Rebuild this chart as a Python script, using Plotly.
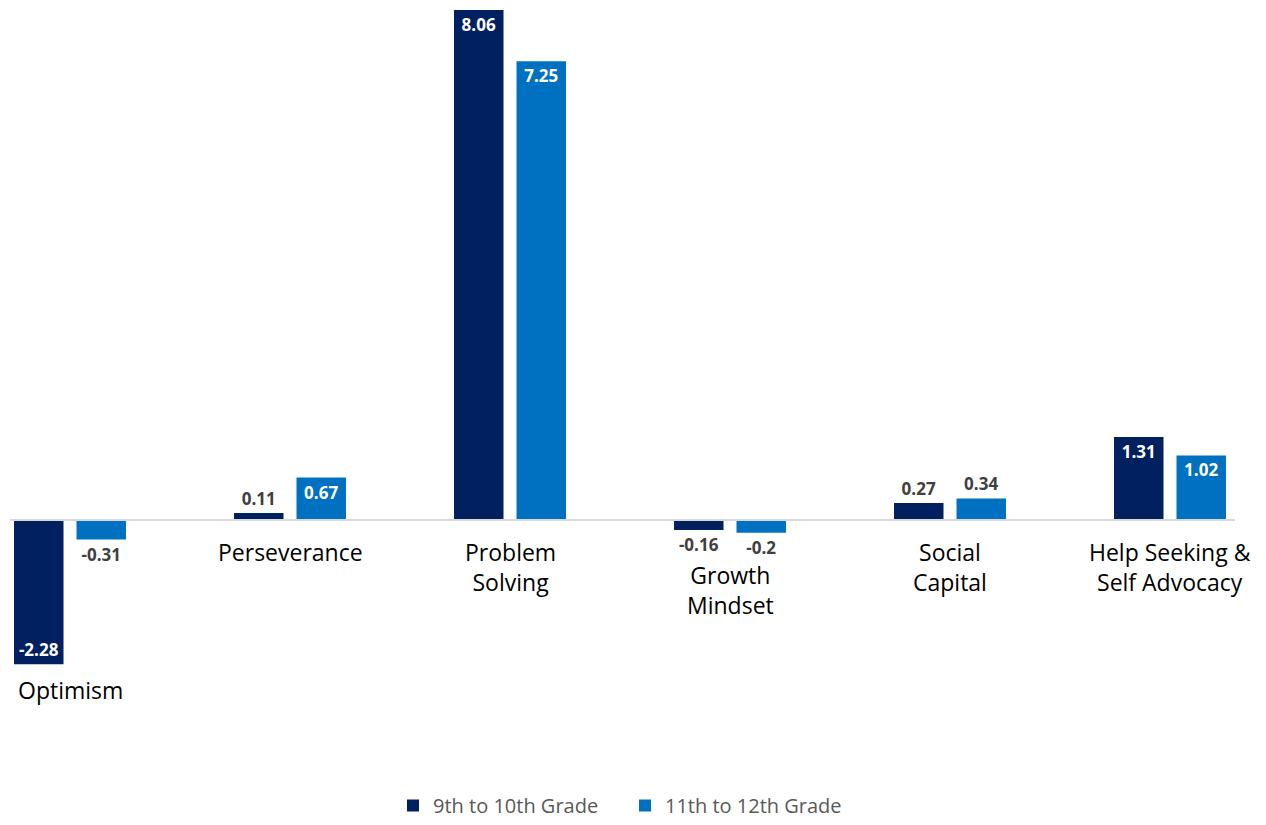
import plotly.graph_objects as go

categories = ["Optimism", "Perseverance", "Problem Solving", "Growth Mindset",
              "Social Capital", "Help Seeking & Self Advocacy"]
label_lines = ["Optimism", "Perseverance", "Problem<br>Solving", "Growth<br>Mindset",
               "Social<br>Capital", "Help Seeking &<br>Self Advocacy"]
grade_9_10 = [-2.28, 0.11, 8.06, -0.16, 0.27, 1.31]
grade_11_12 = [-0.31, 0.67, 7.25, -0.2, 0.34, 1.02]
series_names = ["9th to 10th Grade", "11th to 12th Grade"]
colors = ["#002060", "#0070C0"]

FONT = "Open Sans"
W, H = 1266, 825
MT, MB = 0, 65
plot_h = H - MT - MB
px_per_unit = 510 / 8.06
zero_px = 520
y_top = zero_px / px_per_unit
y_bot = -(plot_h - zero_px) / px_per_unit


def positions(vals):
    return ["inside" if abs(v) >= 0.5 else "outside" for v in vals]


fig = go.Figure()
for name, vals, col in zip(series_names, [grade_9_10, grade_11_12], colors):
    fig.add_trace(go.Bar(
        name=name, x=categories, y=vals, marker_color=col,
        marker_line_width=0,
        text=[f"{v:g}" for v in vals],
        textposition=positions(vals),
        insidetextanchor="end",
        insidetextfont=dict(family=FONT, size=17, color="white", weight="bold"),
        outsidetextfont=dict(family=FONT, size=17, color="#404040", weight="bold"),
        cliponaxis=False,
        hoverinfo="skip",
    ))

# category labels under the zero line / below negative bars
for cat, lab, a, b in zip(categories, label_lines, grade_9_10, grade_11_12):
    lo = min(0, a, b)
    if lo < -1:
        shift = -8
    elif lo < 0:
        shift = -24
    else:
        shift = -14
    fig.add_annotation(x=cat, y=lo, text=lab, showarrow=False, yanchor="top",
                       yshift=shift, font=dict(family=FONT, size=23, color="#000000"))

fig.add_shape(type="line", xref="paper", yref="y", x0=10 / W, x1=1235 / W, y0=0, y1=0,
              line=dict(color="#D9D9D9", width=2), layer="above")

fig.update_layout(
    width=W, height=H,
    margin=dict(l=0, r=0, t=MT, b=MB, autoexpand=False),
    paper_bgcolor="white", plot_bgcolor="white",
    barmode="group", bargap=0.432, bargroupgap=0.208,
    xaxis=dict(range=[-70 / 220, (W - 70) / 220], showticklabels=False,
               showgrid=False, zeroline=False, showline=False, ticks=""),
    yaxis=dict(range=[y_bot, y_top], showticklabels=False, showgrid=False,
               zeroline=False, showline=False, ticks=""),
    legend=dict(orientation="h", x=393 / W, xanchor="left", xref="container",
                y=-0.008, yanchor="bottom", yref="container",
                entrywidth=187, entrywidthmode="pixels",
                font=dict(family=FONT, size=20, color="#595959"), itemwidth=30),
    showlegend=True,
)

fig.write_html("out.html")
